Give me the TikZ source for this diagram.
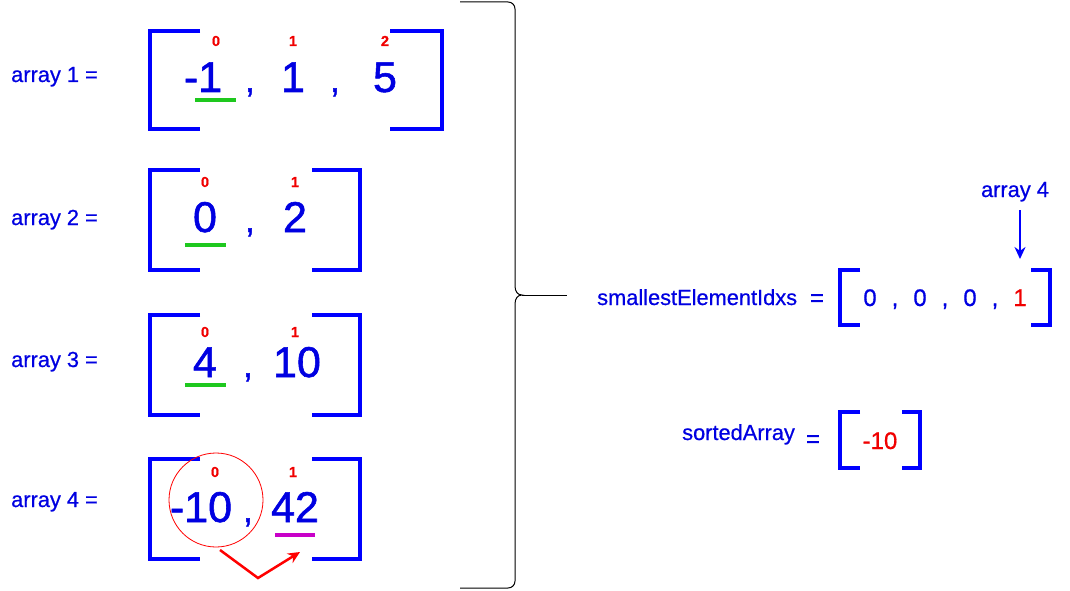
\documentclass[tikz,border=0pt]{standalone}
\usepackage{fontspec}
\setmainfont{Liberation Sans}
\newfontfamily\heavyfont[FakeBold=1.3]{Liberation Sans}
\newfontfamily\midfont[FakeBold=0.6]{Liberation Sans}
\newfontfamily\idxfont[FakeBold=0.8]{Liberation Sans Bold}
\usetikzlibrary{arrows.meta}
\definecolor{brkblue}{RGB}{0,0,255}
\definecolor{txtblue}{RGB}{0,0,225}
\definecolor{idxred}{RGB}{240,0,0}
\definecolor{okgreen}{RGB}{30,200,30}
\definecolor{mag}{RGB}{200,0,200}
\begin{document}
\begin{tikzpicture}[x=1pt,y=-1pt,
  lbl/.style={text=txtblue, font=\midfont\fontsize{21.8}{26}\selectfont, inner sep=0pt, anchor=base west},
  big/.style={text=txtblue, font=\heavyfont\fontsize{43}{50}\selectfont, inner sep=0pt, anchor=base},
  comma/.style={text=txtblue, font=\heavyfont\fontsize{34}{40}\selectfont, inner sep=0pt, anchor=base},
  idx/.style={text=idxred, font=\idxfont\fontsize{14.5}{17}\selectfont, inner sep=0pt, anchor=base},
  sm/.style={text=txtblue, font=\midfont\fontsize{24}{28}\selectfont, inner sep=0pt, anchor=base},
  brk/.style={draw=brkblue, line width=4pt, line join=miter},
  ul/.style={line width=4pt},
]
\useasboundingbox (0,0) rectangle (1070,591);

% ---------- labels ----------
\node[lbl] (l1) at (11,82) {array 1 =};
\node[lbl] (l2) at (11,225) {array 2 =};
\node[lbl] (l3) at (11,367) {array 3 =};
\node[lbl] (l4) at (11,507) {array 4 =};

% ---------- array 1 ----------
\draw[brk] (200,31) -- (150,31) -- (150,129) -- (200,129);
\draw[brk] (390,31) -- (442,31) -- (442,129) -- (390,129);
\node[big] (a1e0) at (203,92) {-1};
\node[comma]  (a1c0) at (250,92) {,};
\node[big] (a1e1) at (293,92) {1};
\node[comma]  (a1c1) at (335,92) {,};
\node[big] (a1e2) at (385,92) {5};
\node[idx] (a1i0) at (216,46) {0};
\node[idx] (a1i1) at (293,46) {1};
\node[idx] (a1i2) at (385,46) {2};
\draw[ul, okgreen] (195,100) -- (236,100);

% ---------- array 2 ----------
\draw[brk] (200,170) -- (150,170) -- (150,270) -- (200,270);
\draw[brk] (312,170) -- (360,170) -- (360,270) -- (312,270);
\node[big] (a2e0) at (205,232) {0};
\node[comma]  (a2c0) at (250,232) {,};
\node[big] (a2e1) at (295,232) {2};
\node[idx] (a2i0) at (205,187) {0};
\node[idx] (a2i1) at (295,187) {1};
\draw[ul, okgreen] (185,245) -- (226,245);

% ---------- array 3 ----------
\draw[brk] (200,315) -- (150,315) -- (150,415) -- (200,415);
\draw[brk] (312,315) -- (360,315) -- (360,415) -- (312,415);
\node[big] (a3e0) at (205,377) {4};
\node[comma]  (a3c0) at (248,377) {,};
\node[big] (a3e1) at (297,377) {10};
\node[idx] (a3i0) at (205,337) {0};
\node[idx] (a3i1) at (295,337) {1};
\draw[ul, okgreen] (185,385) -- (226,385);

% ---------- array 4 ----------
\draw[brk] (200,459) -- (150,459) -- (150,559) -- (200,559);
\draw[brk] (312,459) -- (360,459) -- (360,559) -- (312,559);
\node[big] (a4e0) at (201,522) {-10};
\node[comma]  (a4c0) at (248,522) {,};
\node[big] (a4e1) at (295,522) {42};
\node[idx] (a4i0) at (215,477) {0};
\node[idx] (a4i1) at (293,477) {1};
\draw[ul, mag] (275,535) -- (315,535);
\node[draw=red, line width=0.8pt, circle, minimum size=94pt, inner sep=0pt] (c4) at (216,500) {};
\coordinate (r0) at (220,550);
\coordinate (r1) at (258,578);
\coordinate (r2) at (300,552);
\draw[red, line width=2.5pt, -{Stealth[length=12pt,width=11pt]}] (r0) -- (r1) -- (r2);

% ---------- brace ----------
\coordinate (btip) at (522,295);
\coordinate (bend) at (567,295);
\draw[black, line width=1pt]
  (460,2) -- (508,2) .. controls (512,2) and (515,5) .. (515,9)
  -- (515,286) .. controls (515,292) and (518,295) .. (btip)
  .. controls (518,295) and (515,298) .. (515,304)
  -- (515,581) .. controls (515,585) and (512,588) .. (508,588) -- (460,588);
\draw[black, line width=1pt] (btip) -- (bend);

% ---------- smallestElementIdxs ----------
\node[lbl] (sl) at (597,305) {smallestElementIdxs};
\node[sm]  (seq) at (817,306) {=};
\draw[brk] (860,270) -- (840,270) -- (840,325) -- (860,325);
\draw[brk] (1031,270) -- (1050,270) -- (1050,325) -- (1031,325);
\node[sm] (s0) at (870,306) {0};
\node[sm] (sc0) at (895,306) {,};
\node[sm] (s1) at (920,306) {0};
\node[sm] (sc1) at (945,306) {,};
\node[sm] (s2) at (970,306) {0};
\node[sm] (sc2) at (995,306) {,};
\node[sm, text=idxred] (s3) at (1020,306) {1};
\node[lbl, anchor=base] (a4lbl) at (1015,197) {array 4};
\coordinate (arrend) at (1020,259);
\draw[brkblue, line width=2pt, -{Stealth[length=12pt,width=11pt]}] (1020,210) -- (arrend);

% ---------- sortedArray ----------
\node[lbl] (tl) at (682,440) {sortedArray};
\node[sm]  (teq) at (813,447) {=};
\draw[brk] (860,412) -- (840,412) -- (840,468) -- (860,468);
\draw[brk] (902,412) -- (920,412) -- (920,468) -- (902,468);
\node[sm, text=idxred] (t0) at (880,449) {-10};
\end{tikzpicture}
\end{document}
